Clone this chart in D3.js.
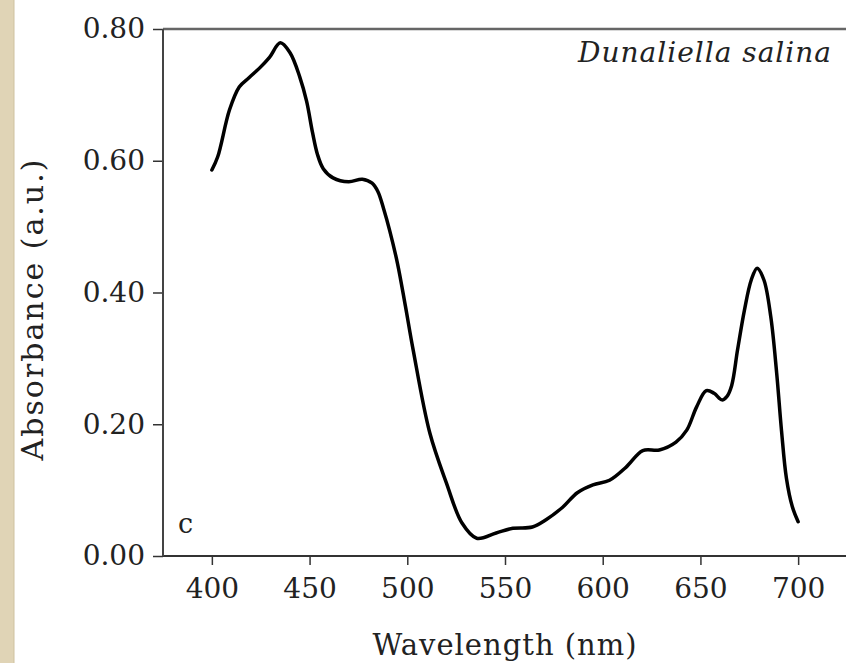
<!DOCTYPE html>
<html>
<head>
<meta charset="utf-8">
<script src="https://cdn.jsdelivr.net/npm/d3@7"></script>
<style>
  body { margin: 0; background: #fff; }
  text { font-family: "DejaVu Serif", serif; fill: #222; }
</style>
</head>
<body>
<div id="viz"></div>
<script>
// absorption spectrum
const wavelength = [400, 403, 409, 414, 419, 424.5, 429.5, 435, 440, 445, 448.5, 451.5, 454, 457, 462, 470, 477, 482, 485, 488,
  491, 495, 499, 503, 511.5, 520, 528, 535.5, 545.5, 554, 564, 571, 579.5, 587, 595, 603.5, 612, 620.5, 629, 637.5,
  643, 648, 653, 657, 661, 663.5, 666, 669, 672.5, 676, 679, 682.5, 686, 689, 691.5, 694, 697, 700];
const absorbance = [0.586, 0.606, 0.677, 0.712, 0.726, 0.741, 0.757, 0.779, 0.764, 0.727, 0.690, 0.643, 0.610, 0.588, 0.574, 0.568, 0.572, 0.566, 0.553, 0.526,
  0.494, 0.444, 0.380, 0.313, 0.187, 0.111, 0.050, 0.027, 0.035, 0.042, 0.044, 0.055, 0.074, 0.096, 0.108, 0.115, 0.135, 0.160, 0.161, 0.173,
  0.191, 0.226, 0.251, 0.247, 0.237, 0.242, 0.259, 0.313, 0.373, 0.419, 0.437, 0.419, 0.363, 0.278, 0.190, 0.118, 0.075, 0.052];

// ticks
const xMajor = [400, 450, 500, 550, 600, 650, 700];
const xMinor = [375, 425, 475, 525, 575, 625, 675, 725];
const yMajor = [0, 0.2, 0.4, 0.6, 0.8];
const yMinor = [0.1, 0.3, 0.5, 0.7];

const width = 846
const height = 663
const margin = {left: 163, top: 29, right: 0, bottom: 107}

const g_width = width - margin.left - margin.right;
const g_height = height - margin.top - margin.bottom;

const svg = d3.select("#viz")
    .append("svg")
    .attr("width", width)
    .attr("height", height);

// beige strip on the left edge
svg.append("rect")
    .attr("x", 0).attr("y", 0)
    .attr("width", 14).attr("height", height)
    .attr("fill", "#e0d4b6");
svg.append("line")
    .attr("x1", 14).attr("x2", 14).attr("y1", 0).attr("y2", height)
    .style("stroke", "#cfc2a0").style("stroke-width", 1);

const g = svg.append("g")
    .attr("transform", "translate(" + margin.left + "," + margin.top + ")");

// scales
const x = d3.scaleLinear().domain([375, 725]).range([0, 684]);
const y = d3.scaleLinear().domain([0, 0.8]).range([g_height, 0]);

// frame: top line
g.append("line")
    .attr("x1", 0).attr("x2", g_width)
    .attr("y1", 0).attr("y2", 0)
    .style("stroke", "#666").style("stroke-width", 2.5);

// x axis
const xAxis = g.append("g")
    .attr("transform", "translate(0," + g_height + ")");
xAxis.call(d3.axisBottom(x).tickValues(xMinor).tickSize(5).tickFormat(""));
xAxis.call(d3.axisBottom(x).tickValues(xMajor).tickSize(9).tickPadding(13).tickFormat(d3.format("d")));
xAxis.selectAll(".domain").remove();
xAxis.append("line")
    .attr("x1", 0).attr("x2", g_width + 10)
    .style("stroke", "#333").style("stroke-width", 2);
xAxis.selectAll(".tick line").style("stroke", "#333").style("stroke-width", 1.5);
xAxis.selectAll("text")
    .style("font-size", "28px")
    .style("font-family", "DejaVu Serif")
    .attr("fill", "#222");

// y axis
const yAxis = g.append("g");
yAxis.call(d3.axisLeft(y).tickValues(yMinor).tickSize(5).tickFormat(""));
yAxis.call(d3.axisLeft(y).tickValues(yMajor).tickSize(10).tickPadding(8).tickFormat(d3.format(".2f")));
yAxis.selectAll(".domain").remove();
yAxis.append("line")
    .attr("y1", 0).attr("y2", g_height)
    .style("stroke", "#444").style("stroke-width", 2);
yAxis.selectAll(".tick line").style("stroke", "#333").style("stroke-width", 1.5);
yAxis.selectAll("text")
    .style("font-size", "28px")
    .style("font-family", "DejaVu Serif")
    .attr("fill", "#222");

// spectrum
const line = d3.line()
    .x(function(d, i) { return x(wavelength[i]) })
    .y(function(d) { return y(d) })
    .curve(d3.curveCatmullRom);

g.append("path")
    .datum(absorbance)
    .attr("d", line)
    .attr("fill", "none")
    .attr("stroke", "#000")
    .attr("stroke-width", 3.5)
    .attr("stroke-linejoin", "round")
    .attr("stroke-linecap", "round");

// labels
g.append("text")
    .attr("x", 669)
    .attr("y", 33)
    .attr("text-anchor", "end")
    .style("font-size", "28px")
    .style("font-style", "italic")
    .style("letter-spacing", "1px")
    .text("Dunaliella salina");

g.append("text")
    .attr("x", 15)
    .attr("y", 504)
    .style("font-size", "27px")
    .text("c");

svg.append("text")
    .attr("x", 505)
    .attr("y", 655)
    .attr("text-anchor", "middle")
    .style("font-size", "29px")
    .style("letter-spacing", "1px")
    .text("Wavelength (nm)");

svg.append("text")
    .attr("transform", "translate(43,309)rotate(-90)")
    .attr("text-anchor", "middle")
    .style("font-size", "30px")
    .style("letter-spacing", "2px")
    .text("Absorbance (a.u.)");
</script>
</body>
</html>
